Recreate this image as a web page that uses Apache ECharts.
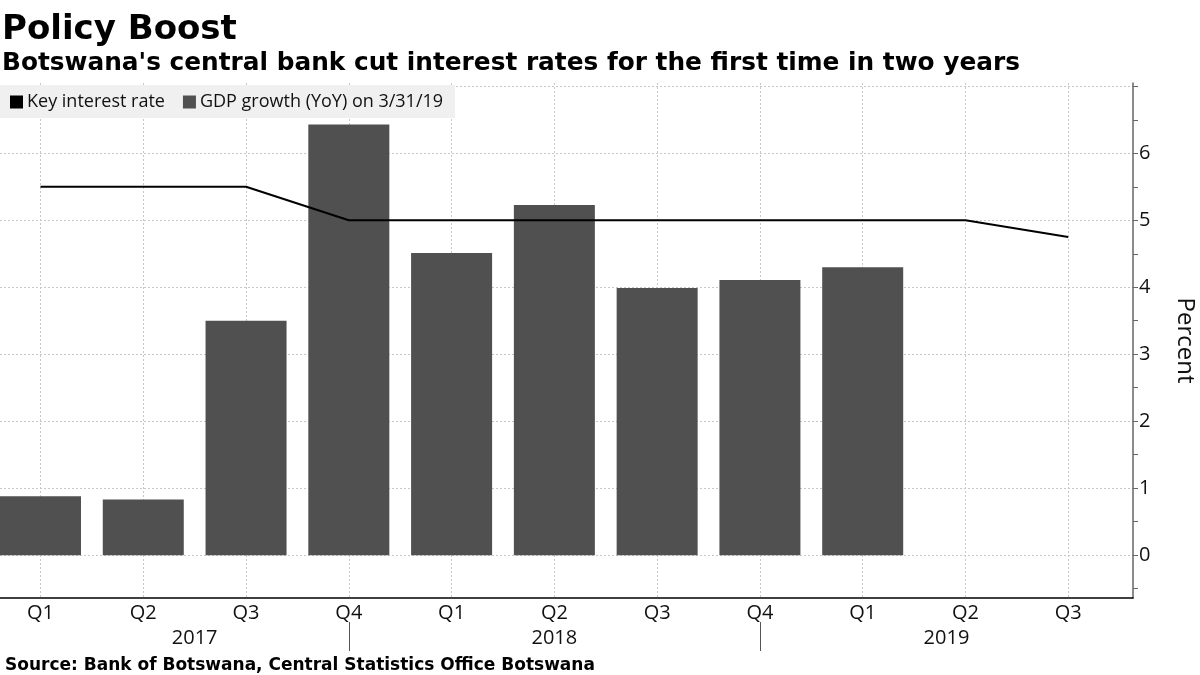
<!DOCTYPE html>
<html>
<head>
<meta charset="utf-8">
<script src="https://cdn.jsdelivr.net/npm/echarts@6/dist/echarts.min.js"></script>
<style>
html,body{margin:0;padding:0;background:#fff;}
#chart{width:1200px;height:675px;}
</style>
</head>
<body>
<div id="chart"></div>
<script>
// ---- data ----
const quarterLabels = ['Q1','Q2','Q3','Q4','Q1','Q2','Q3','Q4','Q1','Q2','Q3'];
const yearLabels = ['2017','2018','2019'];
const yearLabelPos = [1.5, 5, 8.815];
const yearSeparators = [3, 7];
const gdpGrowth = [0.88, 0.83, 3.50, 6.43, 4.51, 5.23, 3.99, 4.11, 4.30];
const keyRate = [5.5, 5.5, 5.5, 5.0, 5.0, 5.0, 5.0, 5.0, 5.0, 5.0, 4.75];
const yLabels = [0, 1, 2, 3, 4, 5, 6];
const yTicks = [-0.5, 0, 0.5, 1, 1.5, 2, 2.5, 3, 3.5, 4, 4.5, 5, 5.5, 6, 6.5, 7];

const font = "'Open Sans', 'Noto Sans', sans-serif";
const boldFont = "'DejaVu Sans', sans-serif";

const chart = echarts.init(document.getElementById('chart'), null, {renderer: 'canvas'});
const xIdx = quarterLabels.map((_, i) => i);

chart.setOption({
  animation: false,
  backgroundColor: '#ffffff',
  title: [
    {text: 'Policy Boost', left: -3, top: 8,
     textStyle: {fontFamily: boldFont, fontWeight: 'bold', fontSize: 34, color: '#000'}},
    {text: "Botswana's central bank cut interest rates for the first time in two years", left: -3, top: 46,
     textStyle: {fontFamily: boldFont, fontWeight: 'bold', fontSize: 24.8, color: '#000'}},
    {text: 'Source: Bank of Botswana, Central Statistics Office Botswana', left: 0, top: 652,
     textStyle: {fontFamily: boldFont, fontWeight: 'bold', fontSize: 17, color: '#000'}}
  ],
  legend: {
    left: 0, top: 85,
    padding: [8, 12, 7, 10],
    backgroundColor: '#f0f0f0',
    icon: 'rect', itemWidth: 13, itemHeight: 13, itemGap: 18,
    textStyle: {fontFamily: font, fontSize: 18, color: '#111', padding: [0, 0, 0, -1]},
    data: ['Key interest rate', 'GDP growth (YoY) on 3/31/19']
  },
  grid: {left: 0, right: 67, top: 83, bottom: 77, containLabel: false, outerBoundsMode: 'none'},
  xAxis: [
    {
      type: 'value', min: -0.394, max: 10.63,
      axisLine: {show: true, onZero: false, lineStyle: {color: '#000', width: 1.5}},
      axisTick: {show: false, customValues: xIdx},
      axisLabel: {customValues: xIdx, margin: 5, fontFamily: font, fontSize: 20, color: '#111',
        formatter: v => quarterLabels[Math.round(v)]},
      splitLine: {show: true, lineStyle: {color: '#c8c8c8', type: [2, 2], width: 1}}
    },
    {
      type: 'value', min: -0.394, max: 10.63, position: 'bottom', offset: 24,
      axisLine: {show: false, onZero: false},
      axisTick: {show: true, customValues: yearSeparators, length: 29, inside: false,
        lineStyle: {color: '#555', width: 1}},
      axisLabel: {customValues: yearLabelPos, margin: 6, fontFamily: font, fontSize: 20, color: '#111',
        formatter: v => yearLabels[yearLabelPos.findIndex(p => Math.abs(p - v) < 0.01)]},
      splitLine: {show: false}
    }
  ],
  yAxis: {
    type: 'value', position: 'right', min: -0.64, max: 7.05,
    name: 'Percent', nameLocation: 'middle', nameRotate: -90, nameGap: 40,
    nameTextStyle: {fontFamily: font, fontSize: 24, color: '#111'},
    axisLine: {show: true, onZero: false, lineStyle: {color: '#666', width: 1.5}},
    axisTick: {show: true, customValues: yTicks, length: 5, inside: false, lineStyle: {color: '#666'}},
    axisLabel: {customValues: yLabels, margin: 6, fontFamily: font, fontSize: 20, color: '#111'},
    splitLine: {show: true, lineStyle: {color: ['rgba(0,0,0,0)', '#c8c8c8'], type: [2, 2], width: 1}}
  },
  series: [
    {
      name: 'GDP growth (YoY) on 3/31/19', type: 'bar', xAxisIndex: 0,
      barWidth: 81, itemStyle: {color: '#505050'},
      data: gdpGrowth.map((v, i) => [i, v]), z: 2
    },
    {
      name: 'Key interest rate', type: 'line', xAxisIndex: 0,
      symbol: 'none', lineStyle: {color: '#000', width: 2}, itemStyle: {color: '#000'},
      data: keyRate.map((v, i) => [i, v]), z: 3
    }
  ]
});
</script>
</body>
</html>
